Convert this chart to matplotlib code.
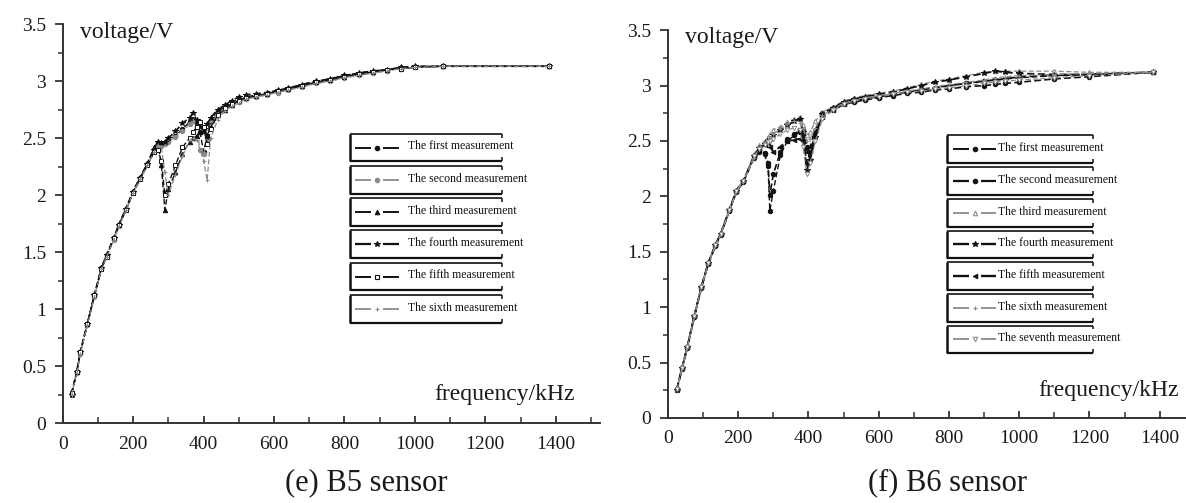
import matplotlib
matplotlib.use("Agg")
import matplotlib.pyplot as plt
from matplotlib.ticker import MultipleLocator, FormatStrFormatter

plt.rcParams["font.family"] = ["Liberation Serif", "DejaVu Serif"]

# ---------------- B5 sensor ----------------
freq_b5 = [25, 40, 50, 70, 90, 110, 125, 145, 160, 180,
           200, 220, 240, 260, 270, 280, 290, 300, 320, 340,
           360, 370, 380, 390, 400, 410, 420, 440, 460, 480,
           500, 520, 550, 580, 610, 640, 680, 720, 760, 800,
           840, 880, 920, 960, 1000, 1080, 1380]

b5_first = [0.26, 0.45, 0.62, 0.87, 1.12, 1.36, 1.47, 1.62, 1.74, 1.88,
            2.03, 2.15, 2.27, 2.40, 2.46, 2.44, 2.46, 2.48, 2.52, 2.58,
            2.64, 2.66, 2.62, 2.55, 2.38, 2.52, 2.66, 2.74, 2.77, 2.80,
            2.83, 2.85, 2.87, 2.89, 2.91, 2.93, 2.96, 2.99, 3.01, 3.04,
            3.06, 3.08, 3.10, 3.11, 3.12, 3.13, 3.13]
b5_second = [0.25, 0.44, 0.61, 0.86, 1.11, 1.35, 1.46, 1.61, 1.73, 1.87,
             2.02, 2.14, 2.26, 2.38, 2.44, 2.43, 2.45, 2.47, 2.51, 2.56,
             2.62, 2.65, 2.60, 2.40, 2.36, 2.48, 2.64, 2.72, 2.76, 2.79,
             2.82, 2.84, 2.86, 2.88, 2.90, 2.92, 2.95, 2.98, 3.00, 3.03,
             3.05, 3.07, 3.09, 3.11, 3.12, 3.13, 3.13]
b5_third = [0.26, 0.46, 0.63, 0.88, 1.13, 1.37, 1.48, 1.63, 1.75, 1.89,
            2.04, 2.16, 2.28, 2.42, 2.47, 2.26, 1.87, 2.05, 2.20, 2.36,
            2.47, 2.50, 2.52, 2.55, 2.56, 2.52, 2.60, 2.70, 2.75, 2.79,
            2.83, 2.86, 2.88, 2.90, 2.92, 2.94, 2.97, 3.00, 3.02, 3.05,
            3.07, 3.09, 3.10, 3.12, 3.13, 3.13, 3.13]
b5_fourth = [0.25, 0.45, 0.62, 0.87, 1.12, 1.36, 1.47, 1.62, 1.74, 1.88,
             2.03, 2.15, 2.27, 2.40, 2.47, 2.46, 2.47, 2.50, 2.56, 2.63,
             2.68, 2.72, 2.66, 2.60, 2.58, 2.62, 2.68, 2.75, 2.79, 2.83,
             2.86, 2.88, 2.89, 2.90, 2.92, 2.94, 2.97, 3.00, 3.02, 3.05,
             3.07, 3.09, 3.10, 3.12, 3.13, 3.13, 3.13]
b5_fifth = [0.26, 0.45, 0.62, 0.87, 1.12, 1.35, 1.46, 1.62, 1.74, 1.87,
            2.02, 2.14, 2.26, 2.38, 2.40, 2.30, 2.00, 2.10, 2.26, 2.42,
            2.50, 2.55, 2.60, 2.64, 2.60, 2.45, 2.58, 2.70, 2.76, 2.80,
            2.83, 2.85, 2.87, 2.89, 2.91, 2.93, 2.96, 2.99, 3.01, 3.04,
            3.06, 3.08, 3.10, 3.11, 3.12, 3.13, 3.13]
b5_sixth = [0.25, 0.44, 0.61, 0.86, 1.11, 1.35, 1.46, 1.61, 1.73, 1.87,
            2.02, 2.14, 2.26, 2.38, 2.44, 2.42, 2.20, 2.00, 2.18, 2.34,
            2.48, 2.50, 2.48, 2.40, 2.30, 2.13, 2.50, 2.66, 2.74, 2.78,
            2.81, 2.84, 2.86, 2.88, 2.90, 2.92, 2.95, 2.98, 3.00, 3.03,
            3.05, 3.07, 3.09, 3.11, 3.12, 3.13, 3.13]

# ---------------- B6 sensor ----------------
freq_b6 = [25, 40, 55, 75, 95, 115, 135, 150, 175, 195,
           215, 245, 260, 275, 285, 290, 300, 320, 340, 360,
           375, 385, 395, 405, 420, 440, 470, 500, 530, 560,
           600, 640, 680, 720, 760, 800, 850, 900, 930, 960,
           1000, 1100, 1200, 1380]

b6_first = [0.26, 0.45, 0.64, 0.92, 1.18, 1.40, 1.56, 1.66, 1.88, 2.05,
            2.14, 2.36, 2.40, 2.38, 2.27, 1.87, 2.05, 2.37, 2.50, 2.55,
            2.58, 2.60, 2.45, 2.33, 2.54, 2.75, 2.80, 2.84, 2.86, 2.88,
            2.90, 2.92, 2.94, 2.96, 2.98, 3.00, 3.02, 3.04, 3.05, 3.06,
            3.07, 3.09, 3.10, 3.12]
b6_second = [0.25, 0.44, 0.63, 0.91, 1.17, 1.39, 1.55, 1.65, 1.87, 2.04,
             2.13, 2.35, 2.42, 2.39, 2.30, 2.01, 2.20, 2.40, 2.52, 2.56,
             2.60, 2.55, 2.30, 2.40, 2.58, 2.72, 2.78, 2.83, 2.85, 2.87,
             2.89, 2.91, 2.93, 2.94, 2.96, 2.97, 2.99, 3.00, 3.01, 3.02,
             3.03, 3.06, 3.08, 3.12]
b6_third = [0.26, 0.46, 0.65, 0.93, 1.19, 1.41, 1.57, 1.67, 1.89, 2.06,
            2.15, 2.38, 2.46, 2.50, 2.54, 2.56, 2.60, 2.63, 2.67, 2.70,
            2.72, 2.64, 2.55, 2.58, 2.68, 2.76, 2.81, 2.86, 2.89, 2.91,
            2.93, 2.95, 2.98, 3.01, 3.04, 3.06, 3.09, 3.12, 3.13, 3.13,
            3.13, 3.13, 3.12, 3.12]
b6_fourth = [0.25, 0.45, 0.64, 0.92, 1.18, 1.40, 1.56, 1.66, 1.88, 2.05,
             2.14, 2.36, 2.44, 2.47, 2.50, 2.52, 2.55, 2.60, 2.64, 2.68,
             2.70, 2.58, 2.24, 2.33, 2.54, 2.74, 2.80, 2.85, 2.88, 2.90,
             2.92, 2.94, 2.97, 3.00, 3.03, 3.05, 3.08, 3.11, 3.13, 3.12,
             3.11, 3.10, 3.10, 3.12]
b6_fifth = [0.26, 0.45, 0.64, 0.92, 1.18, 1.40, 1.56, 1.66, 1.88, 2.05,
            2.14, 2.36, 2.43, 2.46, 2.48, 2.45, 2.40, 2.45, 2.50, 2.51,
            2.52, 2.50, 2.40, 2.45, 2.60, 2.72, 2.78, 2.83, 2.86, 2.88,
            2.90, 2.92, 2.94, 2.96, 2.98, 3.00, 3.02, 3.04, 3.05, 3.06,
            3.08, 3.09, 3.10, 3.12]
b6_sixth = [0.25, 0.44, 0.63, 0.91, 1.17, 1.39, 1.55, 1.65, 1.87, 2.04,
            2.13, 2.35, 2.44, 2.48, 2.51, 2.53, 2.56, 2.61, 2.65, 2.68,
            2.66, 2.62, 2.50, 2.52, 2.62, 2.73, 2.79, 2.84, 2.87, 2.89,
            2.91, 2.93, 2.95, 2.97, 2.99, 3.01, 3.03, 3.05, 3.07, 3.08,
            3.09, 3.10, 3.11, 3.12]
b6_seventh = [0.26, 0.45, 0.64, 0.92, 1.18, 1.40, 1.56, 1.66, 1.88, 2.05,
              2.14, 2.36, 2.43, 2.46, 2.49, 2.50, 2.52, 2.56, 2.60, 2.62,
              2.60, 2.45, 2.20, 2.30, 2.50, 2.70, 2.78, 2.83, 2.86, 2.88,
              2.90, 2.92, 2.94, 2.95, 2.97, 2.98, 3.00, 3.02, 3.03, 3.04,
              3.05, 3.07, 3.09, 3.12]

labels_b5 = ["The first measurement", "The second measurement",
             "The third measurement", "The fourth measurement",
             "The fifth measurement", "The sixth measurement"]
labels_b6 = labels_b5 + ["The seventh measurement"]

y_ticks = [0, 0.5, 1, 1.5, 2, 2.5, 3, 3.5]
x_ticks = [0, 200, 400, 600, 800, 1000, 1200, 1400]

BLACK = "#111111"
GRAY = "#8a8a8a"

# (colour, marker, marker filled?, line width)
styles_b5 = [(BLACK, "o", True, 1.0), (GRAY, "o", True, 0.9),
             (BLACK, "^", True, 1.0), (BLACK, "*", True, 1.2),
             (BLACK, "s", False, 1.0), (GRAY, "+", True, 0.9)]
styles_b6 = [(BLACK, "o", True, 1.0), (BLACK, "o", True, 1.2),
             (GRAY, "^", False, 0.9), (BLACK, "*", True, 1.3),
             (BLACK, "<", True, 1.3), (GRAY, "+", True, 0.9),
             (GRAY, "v", False, 0.9)]


def style_axes(ax, xmax):
    ax.set_xlim(0, xmax)
    ax.set_ylim(0, 3.5)
    for side in ("top", "right"):
        ax.spines[side].set_visible(False)
    for side in ("left", "bottom"):
        ax.spines[side].set_color("#333333")
        ax.spines[side].set_linewidth(1.4)
    ax.set_xticks(x_ticks)
    ax.set_yticks(y_ticks)
    ax.yaxis.set_major_formatter(FormatStrFormatter("%g"))
    ax.xaxis.set_minor_locator(MultipleLocator(100))
    ax.yaxis.set_minor_locator(MultipleLocator(0.25))
    ax.tick_params(axis="y", which="major", direction="out", length=6,
                   width=1.3, color="#333333", labelsize=14, pad=6,
                   labelcolor="#1a1a1a")
    ax.tick_params(axis="y", which="minor", direction="out", length=3.5,
                   width=1.1, color="#333333")
    ax.tick_params(axis="x", which="major", direction="in", length=5,
                   width=1.3, color="#333333", labelsize=14, pad=9,
                   labelcolor="#1a1a1a")
    ax.tick_params(axis="x", which="minor", direction="in", length=4,
                   width=1.1, color="#333333")
    ax.text(48, 3.43, "voltage/V", fontsize=17, va="center", ha="left",
            color="#1a1a1a")
    ax.text(1455, 0.25, "frequency/kHz", fontsize=17, va="center",
            ha="right", color="#1a1a1a")


def draw_series(ax, freq, series, styles):
    for vals, (col, mk, filled, lw) in zip(series, styles):
        ax.plot(freq, vals, color=col, linestyle=(0, (4, 2)), linewidth=lw,
                marker=mk, markersize=3.2 if mk != "*" else 4.2,
                markerfacecolor=col if filled else "white",
                markeredgecolor=col, markeredgewidth=0.7, zorder=3)


def draw_key(ax, labels, styles, x_left, x_right, y_top, step, height,
             line_x0, line_x1, text_x):
    for i, (lab, (col, mk, filled, lw)) in enumerate(zip(labels, styles)):
        top = y_top - i * step
        bot = top - height
        mid = (top + bot) / 2
        kw = dict(color="#111111", clip_on=False, zorder=4,
                  solid_capstyle="butt")
        ax.plot([x_left, x_left], [bot, top], linewidth=1.8, **kw)
        ax.plot([x_left, x_right], [top, top], linewidth=1.2, **kw)
        ax.plot([x_left, x_right], [bot, bot], linewidth=1.6, **kw)
        ax.plot([x_right, x_right], [top, top - 0.035], linewidth=1.1, **kw)
        ax.plot([x_right, x_right], [bot, bot + 0.035], linewidth=1.1, **kw)
        gap = (line_x1 - line_x0) * 0.14
        cx = (line_x0 + line_x1) / 2
        ax.plot([line_x0, cx - gap], [mid, mid], color=col,
                linewidth=lw + 0.4, solid_capstyle="butt", zorder=4)
        ax.plot([cx + gap, line_x1], [mid, mid], color=col,
                linewidth=lw + 0.4, solid_capstyle="butt", zorder=4)
        ax.plot([cx], [mid], linestyle="none", marker=mk,
                markersize=3.2 if mk != "*" else 4.2,
                markerfacecolor=col if filled else "white",
                markeredgecolor=col, markeredgewidth=0.8, zorder=4)
        ax.text(text_x, mid + 0.01, lab, fontsize=8.5, va="center",
                ha="left", color="#111111", zorder=5)


fig = plt.figure(figsize=(11.86, 5.03), dpi=100)
fig.patch.set_facecolor("white")

ax1 = fig.add_axes([0.0529, 0.159, 0.4528, 0.793])
style_axes(ax1, 1525)
draw_series(ax1, freq_b5,
            [b5_first, b5_second, b5_third, b5_fourth, b5_fifth, b5_sixth],
            styles_b5)
draw_key(ax1, labels_b5, styles_b5, x_left=816, x_right=1248, y_top=2.54,
         step=0.283, height=0.245, line_x0=830, line_x1=955, text_x=980)

ax2 = fig.add_axes([0.5632, 0.169, 0.4368, 0.771])
style_axes(ax2, 1475)
draw_series(ax2, freq_b6,
            [b6_first, b6_second, b6_third, b6_fourth, b6_fifth, b6_sixth,
             b6_seventh],
            styles_b6)
draw_key(ax2, labels_b6, styles_b6, x_left=795, x_right=1211, y_top=2.55,
         step=0.286, height=0.25, line_x0=812, line_x1=935, text_x=940)

fig.text(366 / 1186, 1 - 483 / 503, "(e) B5 sensor", fontsize=22,
         ha="center", va="center", color="#1a1a1a")
fig.text(947 / 1186, 1 - 483 / 503, "(f) B6 sensor", fontsize=22,
         ha="center", va="center", color="#1a1a1a")

fig.savefig("out.png", dpi=100, facecolor="white")
